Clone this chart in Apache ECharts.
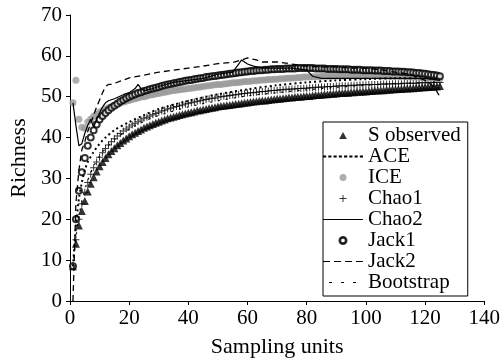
<!DOCTYPE html>
<html>
<head>
<meta charset="utf-8">
<script src="https://cdn.jsdelivr.net/npm/echarts@6/dist/echarts.min.js"></script>
<style>
  html, body { margin: 0; padding: 0; background: #fff; }
  #chart { width: 503px; height: 363px; }
</style>
</head>
<body>
<div id="chart"></div>
<script>
// estimated species richness per sampling unit (1..125)
const sObserved = [
  8.5, 14, 18.5, 22, 24.5, 26.8, 28.7, 30.3, 31.7, 33,
  34, 35, 35.9, 36.7, 37.4, 38.1, 38.7, 39.3, 39.8, 40.3,
  40.8, 41.2, 41.6, 42, 42.4, 42.7, 43, 43.3, 43.6, 43.9,
  44.2, 44.4, 44.7, 44.9, 45.1, 45.3, 45.5, 45.7, 45.9, 46.1,
  46.2, 46.4, 46.6, 46.7, 46.9, 47, 47.2, 47.3, 47.4, 47.6,
  47.7, 47.8, 47.9, 48, 48.1, 48.2, 48.3, 48.4, 48.5, 48.6,
  48.7, 48.8, 48.9, 49, 49.1, 49.1, 49.2, 49.3, 49.4, 49.5,
  49.5, 49.6, 49.7, 49.8, 49.8, 49.9, 50, 50, 50.1, 50.2,
  50.2, 50.3, 50.4, 50.4, 50.5, 50.6, 50.6, 50.7, 50.7, 50.8,
  50.9, 50.9, 51, 51, 51.1, 51.1, 51.2, 51.2, 51.3, 51.3,
  51.4, 51.4, 51.5, 51.5, 51.6, 51.6, 51.7, 51.7, 51.8, 51.8,
  51.9, 51.9, 52, 52, 52.1, 52.1, 52.2, 52.2, 52.3, 52.3,
  52.4, 52.4, 52.5, 52.5, 52.6
];
const chao1 = [
  8.6, 15, 20, 23.8, 26.6, 29, 31, 32.6, 34, 35.2,
  36.3, 37.3, 38.2, 39, 39.7, 40.4, 41, 41.6, 42.1, 42.6,
  43.1, 43.5, 43.9, 44.3, 44.7, 45, 45.3, 45.6, 45.9, 46.2,
  46.5, 46.7, 47, 47.2, 47.4, 47.6, 47.8, 48, 48.2, 48.4,
  48.5, 48.7, 48.9, 49, 49.2, 49.3, 49.5, 49.6, 49.7, 49.9,
  50, 50.1, 50.2, 50.3, 50.4, 50.5, 50.6, 50.7, 50.8, 50.9,
  51, 51, 51.1, 51.2, 51.3, 51.3, 51.4, 51.5, 51.5, 51.6,
  51.7, 51.7, 51.8, 51.8, 51.9, 51.9, 52, 52, 52.1, 52.1,
  52.2, 52.2, 52.3, 52.3, 52.4, 52.4, 52.5, 52.5, 52.5, 52.6,
  52.6, 52.7, 52.7, 52.7, 52.8, 52.8, 52.8, 52.9, 52.9, 52.9,
  53, 53, 53, 53, 53.1, 53.1, 53.1, 53.1, 53.2, 53.2,
  53.2, 53.2, 53.3, 53.3, 53.3, 53.3, 53.3, 53.4, 53.4, 53.4,
  53.4, 53.4, 53.5, 53.5, 53.5
];
const jack1 = [
  8.5, 20, 27, 31.5, 35, 38, 40, 41.8, 43.2, 44.4,
  45.3, 46, 46.7, 47.3, 47.8, 48.3, 48.8, 49.2, 49.6, 50,
  50.3, 50.6, 50.9, 51.1, 51.4, 51.6, 51.8, 52, 52.2, 52.4,
  52.6, 52.8, 53, 53.1, 53.3, 53.4, 53.6, 53.7, 53.9, 54,
  54.1, 54.3, 54.4, 54.5, 54.6, 54.8, 54.9, 55, 55.1, 55.2,
  55.3, 55.4, 55.5, 55.6, 55.7, 55.8, 55.9, 56, 56.1, 56.2,
  56.3, 56.3, 56.4, 56.5, 56.5, 56.6, 56.6, 56.7, 56.7, 56.8,
  56.8, 56.8, 56.9, 56.9, 56.9, 56.9, 57, 57, 57, 57,
  57, 57, 56.9, 56.9, 56.9, 56.9, 56.8, 56.8, 56.8, 56.8,
  56.7, 56.7, 56.7, 56.7, 56.6, 56.6, 56.6, 56.6, 56.5, 56.5,
  56.5, 56.5, 56.4, 56.4, 56.4, 56.3, 56.3, 56.3, 56.2, 56.2,
  56.2, 56.1, 56.1, 56, 56, 55.9, 55.8, 55.8, 55.7, 55.6,
  55.5, 55.4, 55.3, 55.2, 55
];
const ice = [
  48.5, 54, 44.5, 42.5, 42.3, 43.8, 44.5, 45.2, 45.7, 46.2,
  46.6, 47, 47.3, 47.6, 47.9, 48.2, 48.4, 48.7, 48.9, 49.1,
  49.3, 49.5, 49.7, 49.9, 50, 50.2, 50.4, 50.5, 50.7, 50.8,
  51, 51.1, 51.2, 51.4, 51.5, 51.6, 51.7, 51.8, 51.9, 52,
  52.1, 52.2, 52.3, 52.4, 52.5, 52.6, 52.7, 52.8, 52.9, 53,
  53, 53.1, 53.2, 53.3, 53.4, 53.4, 53.5, 53.6, 53.7, 53.7,
  53.8, 53.9, 53.9, 54, 54.1, 54.1, 54.2, 54.2, 54.3, 54.3,
  54.4, 54.4, 54.5, 54.5, 54.6, 54.6, 54.7, 54.7, 54.8, 54.8,
  54.8, 54.9, 54.9, 54.9, 55, 55, 55, 55, 55.1, 55.1,
  55.1, 55.1, 55.1, 55.2, 55.2, 55.2, 55.2, 55.2, 55.2, 55.2,
  55.2, 55.2, 55.2, 55.2, 55.1, 55.1, 55.1, 55.1, 55, 55,
  55, 55, 54.9, 54.9, 54.9, 54.8, 54.8, 54.7, 54.7, 54.6,
  54.6, 54.5, 54.5, 54.4, 54.4
];

// line estimators, read at selected sampling units
const aceUnits = [1, 2, 3, 4, 5, 6, 8, 10, 12, 15, 20, 25, 30, 40, 50, 60, 70, 80, 90, 100, 110, 120, 125];
const ace = [8.5, 18, 25, 29, 32, 34, 36.5, 38.5, 40, 41.8, 43.8, 45.5, 47, 49, 50.6, 51.8, 52.8, 53.5, 54, 54.3, 54.5, 54.5, 54.3];
const bootUnits = [1, 2, 3, 4, 5, 6, 8, 10, 12, 15, 20, 25, 30, 40, 50, 60, 70, 80, 90, 100, 110, 120, 125];
const bootstrap = [8.6, 15.5, 20.5, 24.5, 27.2, 29.5, 33, 35.5, 37.3, 39.5, 42, 44, 45.4, 47.5, 49, 50.2, 51, 51.7, 52.3, 52.8, 53.2, 53.5, 53.6];
const chao2Units = [1, 2, 3, 4, 5, 6, 7, 8, 9, 10, 11, 12, 13, 15, 18, 20, 22, 23, 24, 25,
  28, 30, 35, 40, 45, 50, 55, 57, 58, 60, 62, 65, 70, 75, 80, 82, 85, 90, 100, 110, 120, 125];
const chao2 = [48.5, 43, 38, 38.5, 41, 43, 44.5, 42.5, 44.5, 46, 47.5, 48.5, 49, 49.5, 50.5, 51, 52, 53, 52, 51.5,
  52, 52.5, 53.5, 54, 54.5, 55.5, 56, 58, 59, 58, 57.5, 57, 57, 57, 56.5, 55, 54.5, 54.5, 54.5, 54.5, 54.5, 54];
const jack2Units = [1, 2, 3, 4, 5, 6, 7, 8, 9, 10, 11, 12, 13, 14, 17, 20, 25, 30, 35, 40,
  45, 50, 55, 58, 60, 63, 65, 70, 75, 80, 85, 90, 95, 100, 105, 110, 115, 120, 123, 125];
const jack2 = [0, 24, 32, 37, 39, 41.5, 43.5, 45.5, 47.5, 49.2, 51, 52.5, 53, 53, 53.8, 54.6, 55.3, 56, 56.5, 57,
  57.5, 58.1, 58.4, 59, 59.5, 59, 58.5, 58.5, 58, 57.5, 57.3, 57.3, 57, 57, 56.6, 56, 55.5, 54, 52.5, 50];

const xTicks = [0, 20, 40, 60, 80, 100, 120, 140];
const yTicks = [0, 10, 20, 30, 40, 50, 60, 70];

const FONT = 'Liberation Serif';
const PLUS = 'path://M3,0h1v3h3v1h-3v3h-1v-3h-3v-1h3z';
// legend glyphs (paths keep their aspect inside the 40x7 icon box)
const TRI_ICON = 'path://M5,0L10,9L0,9z';
const RING_ICON = 'path://M5,0A5,5,0,1,1,5,10A5,5,0,1,1,5,0zM5,1A4,4,0,1,0,5,9A4,4,0,1,0,5,1z';

// sampling unit i is the i-th entry
const perUnit = arr => arr.map((v, i) => [i + 1, v]);
const paired = (xs, ys) => xs.map((x, i) => [x, ys[i]]);

const chart = echarts.init(document.getElementById('chart'));

const axisCommon = {
  axisLine: { show: true, lineStyle: { color: '#000', width: 1 } },
  axisTick: { show: true, inside: false, length: 4, lineStyle: { color: '#000' } },
  splitLine: { show: false },
  axisLabel: { color: '#000', fontFamily: FONT, fontSize: 21 },
  nameTextStyle: { color: '#000', fontFamily: FONT, fontSize: 22 }
};

const option = {
  animation: false,
  backgroundColor: '#fff',
  grid: { left: 68, right: 18, top: 15, bottom: 61 },
  xAxis: {
    ...axisCommon,
    type: 'value',
    min: xTicks[0],
    max: xTicks[xTicks.length - 1],
    interval: 20,
    name: 'Sampling units',
    nameLocation: 'middle',
    nameGap: 35,
    axisLabel: { ...axisCommon.axisLabel, margin: 7 }
  },
  yAxis: {
    ...axisCommon,
    type: 'value',
    min: yTicks[0],
    max: yTicks[yTicks.length - 1],
    interval: 10,
    name: 'Richness',
    nameLocation: 'middle',
    nameGap: 40,
    axisLabel: { ...axisCommon.axisLabel, margin: 8 }
  },
  legend: {
    orient: 'vertical',
    left: 323,
    top: 122,
    itemWidth: 40,
    itemHeight: 7,
    itemGap: 0,
    symbolKeepAspect: true,
    padding: [3, 7, 3, 0],
    borderColor: '#000',
    borderWidth: 1,
    backgroundColor: '#fff',
    textStyle: { color: '#000', fontFamily: FONT, fontSize: 21, lineHeight: 20 },
    data: [
      { name: 'S observed', icon: TRI_ICON },
      { name: 'ACE', icon: 'path://M0,0h3v2h-3z M5,0h3v2h-3z M10,0h3v2h-3z M15,0h3v2h-3z M20,0h3v2h-3z M25,0h3v2h-3z M30,0h3v2h-3z M35,0h3v2h-3z' },
      { name: 'ICE', icon: 'circle' },
      { name: 'Chao1', icon: PLUS },
      { name: 'Chao2', icon: 'path://M0,0h40v1.2h-40z' },
      { name: 'Jack1', icon: RING_ICON },
      { name: 'Jack2', icon: 'path://M0,0h7v1.2h-7z M11,0h7v1.2h-7z M22,0h7v1.2h-7z M33,0h7v1.2h-7z' },
      { name: 'Bootstrap', icon: 'path://M0,0h0.1v1.2h-0.1z M6,0h3v1.2h-3z M18,0h3v1.2h-3z M30,0h3v1.2h-3z M39.9,0h0.1v1.2h-0.1z' }
    ]
  },
  series: [
    {
      name: 'Bootstrap', type: 'line', data: paired(bootUnits, bootstrap),
      symbol: 'none', smooth: 0.3,
      lineStyle: { color: '#000', width: 1.2, type: [2, 6] }, itemStyle: { color: '#000' }
    },
    {
      name: 'S observed', type: 'scatter', data: perUnit(sObserved),
      symbol: 'triangle', symbolSize: 8, itemStyle: { color: '#000' }
    },
    {
      name: 'Chao1', type: 'scatter', data: perUnit(chao1),
      symbol: PLUS, symbolSize: 7, itemStyle: { color: '#000' }
    },
    {
      name: 'ACE', type: 'line', data: paired(aceUnits, ace),
      symbol: 'none', smooth: 0.3,
      lineStyle: { color: '#000', width: 2, type: [2, 3] }, itemStyle: { color: '#000' }
    },
    {
      name: 'ICE', type: 'scatter', data: perUnit(ice),
      symbol: 'circle', symbolSize: 7, itemStyle: { color: '#9a9a9a' }
    },
    {
      name: 'Jack1', type: 'scatter', data: perUnit(jack1),
      symbol: 'emptyCircle', symbolSize: 6,
      itemStyle: { color: '#000', borderColor: '#000', borderWidth: 1 }
    },
    {
      name: 'Chao2', type: 'line', data: paired(chao2Units, chao2),
      symbol: 'none',
      lineStyle: { color: '#000', width: 1.2 }, itemStyle: { color: '#000' }
    },
    {
      name: 'Jack2', type: 'line', data: paired(jack2Units, jack2),
      symbol: 'none',
      lineStyle: { color: '#000', width: 1.3, type: [6, 4] }, itemStyle: { color: '#000' }
    }
  ]
};

chart.setOption(option);
</script>
</body>
</html>
